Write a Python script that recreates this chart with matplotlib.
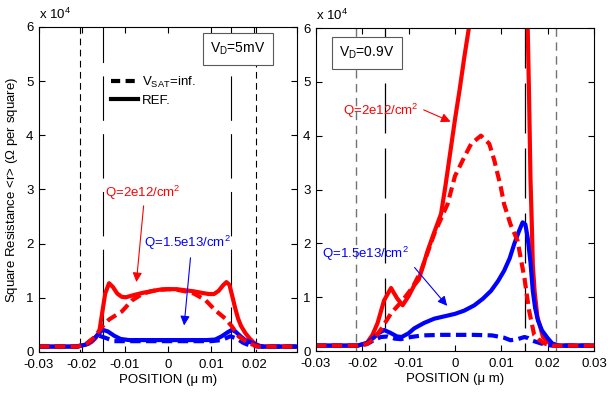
import matplotlib

matplotlib.use("Agg")
import matplotlib.pyplot as plt
from matplotlib.lines import Line2D

plt.rcParams["font.family"] = ["Liberation Sans", "DejaVu Sans"]
plt.rcParams["mathtext.fontset"] = "custom"
plt.rcParams["mathtext.rm"] = "Liberation Sans"
plt.rcParams["mathtext.it"] = "Liberation Sans:italic"
plt.rcParams["font.size"] = 9.5

# ---- data (positions in um, resistance in units of 1e4 ohm/sq) ----
# left panel: V_D = 5 mV
l_red_ref_x = [-0.03, -0.022, -0.021, -0.0195, -0.0185, -0.0177, -0.0168, -0.016, -0.0153, -0.0146,
               -0.0137, -0.0128, -0.0118, -0.0108, -0.0098, -0.008, -0.006, -0.004, -0.002, 0.0,
               0.002, 0.004, 0.006, 0.008, 0.0095, 0.0107, 0.0118, 0.0128, 0.0136, 0.0143, 0.0149,
               0.0156, 0.0163, 0.017, 0.018, 0.019, 0.02, 0.021, 0.022, 0.03]
l_red_ref_y = [0.1, 0.1, 0.11, 0.13, 0.15, 0.19, 0.26, 0.36, 0.72, 1.08,
               1.27, 1.2, 1.08, 1.02, 1.01, 1.05, 1.09, 1.12, 1.15, 1.16,
               1.16, 1.14, 1.12, 1.09, 1.07, 1.07, 1.13, 1.23, 1.29, 1.24, 1.05,
               0.82, 0.62, 0.48, 0.35, 0.25, 0.17, 0.12, 0.1, 0.1]

l_red_vsat_x = [-0.03, -0.021, -0.019, -0.017, -0.0155, -0.0137, -0.0107, -0.0084, -0.006, -0.004,
                -0.002, 0.0, 0.002, 0.004, 0.006, 0.0087, 0.011, 0.0133, 0.0149, 0.0164,
                0.0188, 0.021, 0.03]
l_red_vsat_y = [0.1, 0.1, 0.15, 0.28, 0.45, 0.6, 0.75, 0.95, 1.07, 1.12,
                1.15, 1.16, 1.15, 1.12, 1.08, 0.96, 0.77, 0.62, 0.47, 0.29,
                0.16, 0.1, 0.1]

l_blue_ref_x = [-0.03, -0.021, -0.019, -0.0175, -0.016, -0.0152, -0.014, -0.0125, -0.011, -0.009,
                -0.005, 0.0, 0.005, 0.009, 0.011, 0.0125, 0.014, 0.0149, 0.0158, 0.017,
                0.018, 0.0195, 0.021, 0.022, 0.03]
l_blue_ref_y = [0.1, 0.1, 0.14, 0.22, 0.35, 0.41, 0.38, 0.3, 0.24, 0.22,
                0.22, 0.22, 0.22, 0.22, 0.23, 0.29, 0.37, 0.41, 0.37, 0.28,
                0.22, 0.17, 0.12, 0.1, 0.1]

l_blue_vsat_x = [-0.03, -0.021, -0.019, -0.0175, -0.016, -0.0145, -0.0125, -0.01, 0.0, 0.01,
                 0.0125, 0.0145, 0.016, 0.0175, 0.019, 0.021, 0.03]
l_blue_vsat_y = [0.1, 0.1, 0.15, 0.24, 0.3, 0.26, 0.2, 0.2, 0.2, 0.2,
                 0.22, 0.29, 0.25, 0.17, 0.12, 0.1, 0.1]

# right panel: V_D = 0.9 V
r_red_ref_x = [-0.03, -0.021, -0.019, -0.0178, -0.0167, -0.0153, -0.0138, -0.0125, -0.0113, -0.01,
               -0.0088, -0.0078, -0.0059, -0.0045, -0.003, -0.002, -0.001, 0.0, 0.001, 0.002,
               0.003, 0.005, 0.008, 0.011, 0.014, 0.0152, 0.0157, 0.016, 0.0163, 0.0166,
               0.0168, 0.0172, 0.0178, 0.019, 0.0205, 0.022, 0.03]
r_red_ref_y = [0.1, 0.1, 0.15, 0.3, 0.52, 0.94, 1.17, 0.98, 0.85, 1.02,
               1.22, 1.33, 1.86, 2.2, 2.55, 3.1, 3.7, 4.3, 4.85, 5.45,
               6.0, 7.0, 8.5, 9.0, 8.0, 7.0, 6.0, 4.7, 3.2, 2.3,
               1.6, 1.1, 0.63, 0.26, 0.14, 0.1, 0.1]

r_red_vsat_x = [-0.03, -0.021, -0.019, -0.0175, -0.016, -0.0138, -0.0113, -0.0091, -0.0073, -0.0045,
                -0.0016, 0.0, 0.002, 0.0035, 0.0056, 0.0074, 0.0085, 0.0099, 0.0106, 0.012,
                0.0135, 0.015, 0.016, 0.0171, 0.018, 0.0193, 0.021, 0.03]
r_red_vsat_y = [0.1, 0.1, 0.13, 0.22, 0.4, 0.7, 0.94, 1.19, 1.49, 2.17,
                2.73, 3.25, 3.6, 3.85, 4.0, 3.85, 3.54, 3.04, 2.73, 2.35,
                2.05, 1.35, 0.75, 0.3, 0.22, 0.14, 0.1, 0.1]

r_blue_ref_x = [-0.03, -0.021, -0.019, -0.0175, -0.0165, -0.0153, -0.014, -0.0125, -0.0115, -0.01,
                -0.0088, -0.0067, -0.0045, -0.002, 0.0, 0.002, 0.0042, 0.006, 0.0078, 0.0093,
                0.0106, 0.0118, 0.0128, 0.0137, 0.0146, 0.0152, 0.0157, 0.0163, 0.0168, 0.0173,
                0.0179, 0.0188, 0.02, 0.021, 0.0225, 0.03]
r_blue_ref_y = [0.1, 0.1, 0.15, 0.25, 0.33, 0.39, 0.34, 0.27, 0.26, 0.33,
                0.42, 0.52, 0.6, 0.65, 0.69, 0.75, 0.85, 0.97, 1.12, 1.3,
                1.49, 1.72, 1.99, 2.2, 2.39, 2.35, 2.1, 1.65, 1.12, 0.8,
                0.57, 0.38, 0.24, 0.14, 0.1, 0.1]

r_blue_vsat_x = [-0.03, -0.021, -0.019, -0.0175, -0.016, -0.0145, -0.013, -0.0117, -0.0095, -0.007,
                 -0.003, 0.0, 0.004, 0.008, 0.0105, 0.012, 0.0135, 0.015, 0.0158, 0.0168,
                 0.0186, 0.02, 0.021, 0.03]
r_blue_vsat_y = [0.1, 0.1, 0.13, 0.2, 0.26, 0.27, 0.23, 0.22, 0.26, 0.29,
                 0.3, 0.3, 0.3, 0.29, 0.25, 0.2, 0.22, 0.26, 0.24, 0.19,
                 0.14, 0.11, 0.1, 0.1]

x_ticks = [-0.03, -0.02, -0.01, 0, 0.01, 0.02, 0.03]
x_tick_labels_left = ["-0.03", "-0.02", "-0.01", "0", "0.01", "0.02", ""]
x_tick_labels_right = ["-0.03", "-0.02", "-0.01", "0", "0.01", "0.02", "0.03"]
y_ticks = [0, 1, 2, 3, 4, 5, 6]

left_dash_lines = [-0.0205, 0.0205]
left_solid_lines = [-0.015, 0.0147]
right_dash_lines = [-0.0214, 0.0218]
right_solid_lines = [-0.015, 0.0151]

RED = (1, 0, 0)
BLUE = (0, 0, 1)
LW = 3.0
CURVE_DASH = (0, (2.5, 1.3))
REF_LINE = (8, (40, 12))

fig = plt.figure(figsize=(6.08, 3.94), dpi=100)
ax_l = fig.add_axes([0.0641, 0.1066, 0.4243, 0.8249])
ax_r = fig.add_axes([0.5197, 0.1091, 0.4572, 0.8198])


def style_axes(ax, labels):
    ax.set_xlim(-0.03, 0.03)
    ax.set_ylim(0, 6)
    ax.set_xticks(x_ticks)
    ax.set_xticklabels(labels)
    ax.set_yticks(y_ticks)
    ax.tick_params(direction="in", length=4, width=0.8, top=True, right=True)
    ax.tick_params(axis="x", pad=5)
    ax.tick_params(axis="y", pad=4)
    for sp in ax.spines.values():
        sp.set_linewidth(0.8)
    ax.set_xlabel("POSITION (\u03bc m)", labelpad=2)
    ax.text(0.0, 1.015, r"x 10$^4$", transform=ax.transAxes, ha="left", va="bottom")


def draw_curves(ax, rr, rv, br, bv):
    ax.plot(*rr, color=RED, lw=LW, solid_joinstyle="round")
    ax.plot(*br, color=BLUE, lw=LW, solid_joinstyle="round")
    ax.plot(*bv, color=BLUE, lw=LW, linestyle=CURVE_DASH)
    ax.plot(*rv, color=RED, lw=LW, linestyle=CURVE_DASH)


# ---- left panel ----
for x in left_dash_lines:
    ax_l.axvline(x, color="black", lw=0.8, linestyle=(0, (6, 4)), ymin=1, ymax=0)
for x in left_solid_lines:
    ax_l.axvline(x, color="black", lw=0.8, linestyle=REF_LINE, ymin=1, ymax=0)
draw_curves(ax_l, (l_red_ref_x, l_red_ref_y), (l_red_vsat_x, l_red_vsat_y),
            (l_blue_ref_x, l_blue_ref_y), (l_blue_vsat_x, l_blue_vsat_y))
style_axes(ax_l, x_tick_labels_left)
ax_l.set_ylabel(r"Square Resistance <r> ($\Omega$ per square)", labelpad=4)

ax_l.text(0.0163, 5.59, r"V$_\mathrm{D}$=5mV", ha="center", va="center", fontsize=10,
          bbox=dict(boxstyle="square,pad=0.55", fc="white", ec="0.35", lw=0.8))
handles = [Line2D([], [], color="black", lw=3, linestyle=(0, (2.2, 1.3))),
           Line2D([], [], color="black", lw=3)]
ax_l.legend(handles, [r"V$_\mathrm{SAT}$=inf.", "REF."], loc="upper left",
            bbox_to_anchor=(0.24, 0.885), frameon=False, handlelength=2.0,
            handletextpad=0.3, labelspacing=0.35, borderpad=0.3)

ax_l.text(-0.0058, 2.93, r"Q=2e12/cm$^2$", color=RED, ha="center", va="center")
ax_l.annotate("", xy=(-0.0074, 1.24), xytext=(-0.0056, 2.75),
              arrowprops=dict(arrowstyle="-|>", color=RED, lw=0.8, mutation_scale=14))
ax_l.text(0.0045, 2.01, r"Q=1.5e13/cm$^2$", color=BLUE, ha="center", va="center")
ax_l.annotate("", xy=(0.0037, 0.44), xytext=(0.0053, 1.79),
              arrowprops=dict(arrowstyle="-|>", color=BLUE, lw=0.8, mutation_scale=14))

# ---- right panel ----
for x in right_dash_lines:
    ax_r.axvline(x, color="0.45", lw=1.0, linestyle=(0, (6, 4)), ymin=1, ymax=0)
for x in right_solid_lines:
    ax_r.axvline(x, color="black", lw=0.9, linestyle=REF_LINE, ymin=1, ymax=0)
draw_curves(ax_r, (r_red_ref_x, r_red_ref_y), (r_red_vsat_x, r_red_vsat_y),
            (r_blue_ref_x, r_blue_ref_y), (r_blue_vsat_x, r_blue_vsat_y))
style_axes(ax_r, x_tick_labels_right)

ax_r.text(-0.019, 5.54, r"V$_\mathrm{D}$=0.9V", ha="center", va="center", fontsize=10,
          bbox=dict(boxstyle="square,pad=0.55", fc="white", ec="0.35", lw=0.8))
ax_r.text(-0.016, 4.46, r"Q=2e12/cm$^2$", color=RED, ha="center", va="center")
ax_r.annotate("", xy=(-0.0004, 4.24), xytext=(-0.0073, 4.5),
              arrowprops=dict(arrowstyle="-|>", color=RED, lw=0.8, mutation_scale=14))
ax_r.text(-0.0194, 1.81, r"Q=1.5e13/cm$^2$", color=BLUE, ha="center", va="center")
ax_r.annotate("", xy=(-0.0013, 0.8), xytext=(-0.0091, 1.59),
              arrowprops=dict(arrowstyle="-|>", color=BLUE, lw=0.8, mutation_scale=14))

fig.savefig("out.png", dpi=100)
plt.close(fig)
